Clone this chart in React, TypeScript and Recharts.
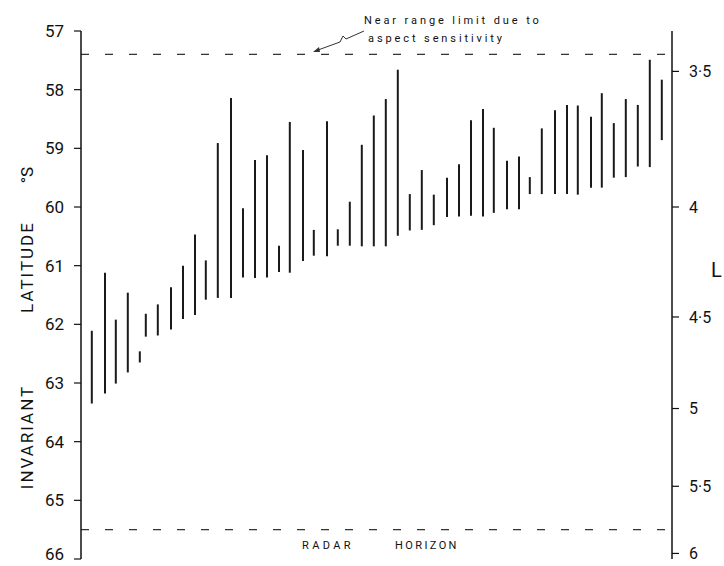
import React from "react";
import { ComposedChart, Bar, Line, XAxis, YAxis, ReferenceLine } from "recharts";

// event index (horizontal position of each observation)
const xs = [0.9, 2.0, 2.9, 3.9, 4.9, 5.4, 6.4, 7.5, 8.5, 9.5, 10.4, 11.4, 12.5, 13.5, 14.5, 15.5, 16.5, 17.4, 18.5, 19.4, 20.5, 21.4, 22.4, 23.4, 24.4, 25.4, 26.4, 27.4, 28.4, 29.4, 30.5, 31.5, 32.5, 33.5, 34.4, 35.5, 36.5, 37.4, 38.4, 39.5, 40.5, 41.4, 42.5, 43.4, 44.4, 45.4, 46.4, 47.4, 48.4];
// poleward (upper) limit, invariant latitude °S
const poleward = [62.11, 61.12, 61.92, 61.46, 62.46, 61.82, 61.66, 61.37, 61.0, 60.47, 60.91, 58.91, 58.14, 60.02, 59.2, 59.12, 60.66, 58.55, 59.03, 60.39, 58.54, 60.38, 59.91, 58.94, 58.44, 58.16, 57.66, 59.78, 59.37, 59.79, 59.5, 59.27, 58.52, 58.33, 58.65, 59.21, 59.14, 59.49, 58.66, 58.35, 58.26, 58.27, 58.46, 58.06, 58.57, 58.16, 58.26, 57.49, 57.83];
// equatorward (lower) limit, invariant latitude °S
const equatorward = [63.35, 63.18, 63.01, 62.82, 62.65, 62.21, 62.19, 62.09, 61.91, 61.84, 61.58, 61.55, 61.55, 61.2, 61.21, 61.2, 61.11, 61.12, 60.92, 60.83, 60.84, 60.66, 60.66, 60.67, 60.67, 60.67, 60.49, 60.4, 60.39, 60.31, 60.17, 60.16, 60.15, 60.16, 60.1, 60.04, 60.04, 59.78, 59.78, 59.78, 59.78, 59.79, 59.67, 59.67, 59.5, 59.49, 59.31, 59.32, 58.86];

const LAT_TICKS = [57, 58, 59, 60, 61, 62, 63, 64, 65, 66];
const L_TICKS = [3.5, 4, 4.5, 5, 5.5, 6];
const NEAR_RANGE_LIMIT = 57.4;
const RADAR_HORIZON = 65.5;

const latOfL = (L: number) => (Math.acos(1 / Math.sqrt(L)) * 180) / Math.PI;
const lOfLat = (lat: number) => 1 / Math.cos((lat * Math.PI) / 180) ** 2;
const fmtL = (v: number) => {
  const r = Math.round(lOfLat(v) * 2) / 2;
  return Number.isInteger(r) ? String(r) : String(r).replace(".", "·");
};

const data = xs.map((x, i) => ({ x, range: [poleward[i], equatorward[i]], top: poleward[i] }));

const FONT = "Roboto, 'DejaVu Sans', sans-serif";
const INK = "#111";

const LeftTick = (props: any) => {
  const { x, y, payload } = props;
  return (
    <text x={x} y={Math.min(y, 554)} dy="0.355em" textAnchor="end" fontSize={17} fontFamily={FONT} fill={INK}>
      {payload.value}
    </text>
  );
};

export default function App() {
  return (
    <div style={{ position: "absolute", left: 0, top: 0, width: 724, height: 566, background: "#fff" }}>
      <ComposedChart width={724} height={566} data={data} margin={{ top: 31, right: 0, bottom: 7, left: 0 }}>
        <XAxis dataKey="x" type="number" domain={[0, 49.25]} hide />
        <YAxis
          yAxisId="left"
          orientation="left"
          width={81}
          reversed
          type="number"
          domain={[57, 66]}
          ticks={LAT_TICKS}
          interval={0}
          tickSize={7}
          tickMargin={10}
          axisLine={{ stroke: INK, strokeWidth: 1.5 }}
          tickLine={{ stroke: INK, strokeWidth: 1.2 }}
          tick={<LeftTick />}
        />
        <YAxis
          yAxisId="right"
          orientation="right"
          width={52}
          reversed
          type="number"
          domain={[57, 66]}
          allowDataOverflow
          ticks={L_TICKS.map(latOfL)}
          tickFormatter={fmtL}
          interval={0}
          tickSize={7}
          tickMargin={10}
          axisLine={{ stroke: INK, strokeWidth: 1.5 }}
          tickLine={{ stroke: INK, strokeWidth: 1.2 }}
          tick={{ fill: INK, fontSize: 16, fontFamily: FONT }}
        />
        <ReferenceLine yAxisId="left" y={NEAR_RANGE_LIMIT} stroke="#333" strokeWidth={1.2} strokeDasharray="8 16" />
        <ReferenceLine yAxisId="left" y={RADAR_HORIZON} stroke="#333" strokeWidth={1.2} strokeDasharray="8 16" />
        <Bar yAxisId="left" dataKey="range" barSize={2} fill="#1a1a1a" isAnimationActive={false} />
        <Line yAxisId="right" dataKey="top" stroke="none" dot={false} activeDot={false} isAnimationActive={false} legendType="none" />
      </ComposedChart>
      <svg
        width={724}
        height={566}
        style={{ position: "absolute", left: 0, top: 0, pointerEvents: "none" }}
        fontFamily={FONT}
        fill={INK}
      >
        <text x={364} y={24} fontSize={11} letterSpacing={2.9}>Near range limit due to</text>
        <text x={368} y={42} fontSize={11} letterSpacing={2.9}>aspect sensitivity</text>
        <path d="M364,31 L346,39 L343,36 L340,42 L318,50" fill="none" stroke="#333" strokeWidth={1} />
        <path d="M313,52 L319,47 L320,52 Z" fill="#333" />
        <text x={302} y={549} fontSize={11} letterSpacing={3.4}>RADAR</text>
        <text x={395} y={549} fontSize={11} letterSpacing={2.4}>HORIZON</text>
        <text x={27} y={437} fontSize={17} letterSpacing={2} textAnchor="middle" dominantBaseline="central" transform="rotate(-90 27 437)">INVARIANT</text>
        <text x={27} y={267} fontSize={17} letterSpacing={2} textAnchor="middle" dominantBaseline="central" transform="rotate(-90 27 267)">LATITUDE</text>
        <text x={27} y={175} fontSize={17} textAnchor="middle" dominantBaseline="central" transform="rotate(-90 27 175)">°S</text>
        <text x={711} y={277} fontSize={20}>L</text>
      </svg>
    </div>
  );
}
